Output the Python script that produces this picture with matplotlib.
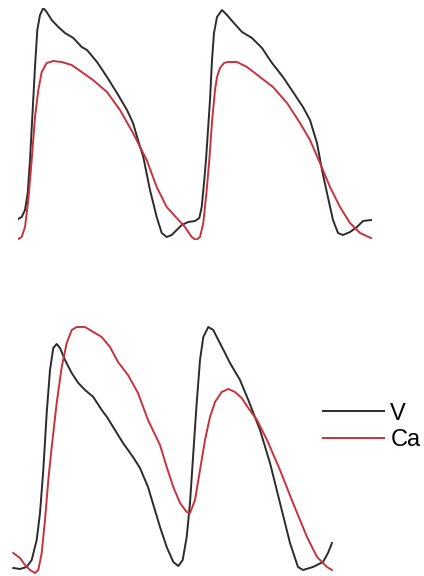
import numpy as np
import matplotlib
matplotlib.use("Agg")
import matplotlib.pyplot as plt

plt.rcParams['font.family'] = ['Liberation Sans', 'DejaVu Sans']

# Top panel: time (ms) and signal (a.u.).
t_top_v = [0, 3.7, 7, 9.7, 12, 14.3, 17, 19.3, 22, 25.3, 28.7, 33.7, 40.3, 47, 55.3,
           63.7, 69, 79, 89, 99, 109, 115, 120, 125.3, 132, 138.7, 143.7, 148.7,
           153.7, 158.7, 163.7, 170.3, 177, 181.3, 183.7, 186, 188, 190, 192, 194,
           196, 199, 204, 209, 215, 224, 234, 244, 254, 265, 275, 285, 292, 299,
           304, 309, 315, 320, 325, 332, 339, 345, 353]
v_top = [21, 23, 30, 47, 80, 123, 173, 210, 225, 232, 228, 220, 213, 207, 202,
         193, 190, 178, 163, 147, 130, 117, 100, 83, 50, 23, 7, 3,
         5, 10, 15, 18, 19, 22, 33, 57, 80, 110, 140, 180,
         207, 223, 230, 225, 218, 208, 202, 192, 177, 163, 148, 133, 120, 97,
         70, 47, 20, 7, 5, 8, 13, 19, 20]

t_top_ca = [0.3, 3.7, 7, 10.3, 13.7, 17, 20.3, 23.7, 28.7, 35.3, 43.7, 53.7, 63.7, 75,
            89, 102, 115, 128.7, 138.7, 148.7, 158.7, 167, 173.7, 178, 182, 185.3,
            188.7, 191.3, 194, 197, 199, 202, 206, 210, 219, 229, 242, 255, 269,
            282, 292, 302, 312, 322, 332, 342, 353]
ca_top = [1, 3, 13, 40, 80, 123, 150, 168, 177, 179, 178, 175, 168, 160,
          148, 130, 107, 80, 53, 33, 22, 13, 3, 0, 3, 17,
          50, 80, 118, 150, 163, 172, 177, 178, 178, 173, 163, 153, 137,
          117, 100, 77, 53, 33, 17, 7, 2]

# Bottom panel
t_bot_v = [1.3, 8, 14.7, 19.7, 24.7, 28, 31.3, 34.7, 38, 41.3, 44.7, 48, 53, 59.7,
           66.3, 73, 81.3, 89.7, 95, 103, 111, 121, 128, 136, 142, 148, 154.7,
           161.3, 166.3, 170.7, 174.7, 178, 181.3, 184.7, 188, 191.3, 196.3, 201.3,
           206.3, 213, 218, 228, 236.3, 248, 258, 268, 278, 286, 291, 301, 311,
           316, 320]
v_bot = [7, 6, 8, 15, 35, 62, 105, 162, 205, 227, 231, 227, 215, 202,
         192, 185, 178, 165, 158, 145, 132, 118, 107, 88, 68, 48, 28,
         13, 9, 15, 38, 72, 122, 172, 215, 238, 248, 245,
         235, 222, 212, 195, 175, 145, 112, 72, 32, 8, 5, 8, 13,
         22, 32]

t_bot_ca = [1.3, 8, 13, 18, 23, 26.3, 29.7, 33, 36.3, 39.7, 44.7, 49.7, 54.7, 59.7,
            64.7, 73, 81.3, 89.7, 98, 106, 116, 126, 136, 148, 154.7, 161.3, 168,
            174.7, 178, 183, 188, 193, 198, 203, 209.7, 216.3, 223, 229.7, 236.3,
            245, 255, 268, 281, 295, 305, 315, 320]
ca_bot = [22, 17, 10, 5, 2, 5, 22, 55, 95, 128, 172, 208, 232, 245,
          248, 248, 243, 238, 228, 213, 200, 182, 155, 130, 108, 88, 72,
          63, 62, 75, 105, 135, 158, 173, 183, 186, 183, 177, 167,
          155, 135, 105, 72, 38, 18, 8, 5]

black = '#2b2b2b'
red = '#c8323c'
lw = 1.4

fig = plt.figure(figsize=(4.24, 5.76), dpi=100)

ax1 = fig.add_axes([18 / 424, 336 / 576, 354 / 424, 232 / 576])
ax1.plot(t_top_v, v_top, color=black, lw=lw, solid_joinstyle='round')
ax1.plot(t_top_ca, ca_top, color=red, lw=lw, solid_joinstyle='round')
ax1.set_xlim(0, 354)
ax1.set_ylim(0, 232)
ax1.axis('off')

ax2 = fig.add_axes([12 / 424, 1 / 576, 321 / 424, 250 / 576])
l1, = ax2.plot(t_bot_v, v_bot, color=black, lw=lw, label='V', solid_joinstyle='round')
l2, = ax2.plot(t_bot_ca, ca_bot, color=red, lw=lw, label='Ca', solid_joinstyle='round')
ax2.set_xlim(0, 321)
ax2.set_ylim(0, 250)
ax2.axis('off')

fig.legend(handles=[l1, l2], loc='center left', bbox_to_anchor=(323 / 424, 1 - 427 / 576),
           frameon=False, fontsize=17, handlelength=2.6, handletextpad=0.25,
           labelspacing=0.19, borderpad=0, borderaxespad=0)

fig.savefig('out.png', dpi=100)
